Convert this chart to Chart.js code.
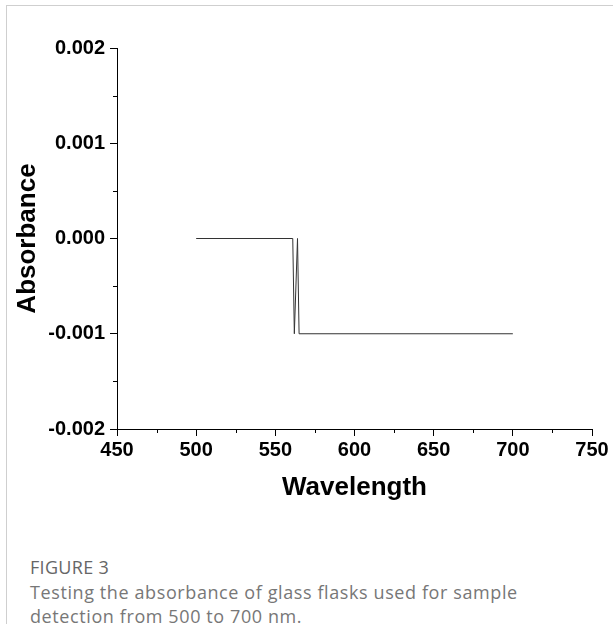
<!DOCTYPE html>
<html>
<head>
<meta charset="utf-8">
<script src="https://cdn.jsdelivr.net/npm/chart.js@4.4.0/dist/chart.umd.min.js"></script>
<style>
  html, body { margin: 0; padding: 0; background: #fff; }
  body { width: 613px; height: 624px; position: relative; overflow: hidden; }
  .card { position: absolute; left: 6px; top: 5px; right: -2px; bottom: -2px;
          border-left: 1px solid #cfcfcf; border-top: 1px solid #cfcfcf; }
  #grafico { position: absolute; left: 0; top: 0; }
  .fig { position: absolute; left: 30px; top: 555px; font-family: "Open Sans", sans-serif;
         font-size: 18px; font-weight: 500; color: #666; letter-spacing: 0.3px; }
  .cap { position: absolute; left: 30px; top: 580px; width: 520px; font-family: "Open Sans", sans-serif;
         font-size: 18px; line-height: 24px; color: #777; letter-spacing: 0.6px; }
</style>
</head>
<body>
<div class="card"></div>
<canvas id="grafico" width="613" height="520"></canvas>
<div class="fig">FIGURE 3</div>
<div class="cap">Testing the absorbance of glass flasks used for sample detection from 500 to 700 nm.</div>

<script>
// datos
const longitudes = [500, 561, 562, 564, 565, 700];
const absorbancia = [0, 0, -0.001, 0, -0.001, -0.001];

const ticksX = [450, 500, 550, 600, 650, 700, 750];
const ticksY = [-0.002, -0.001, 0, 0.001, 0.002];
const menoresX = [475, 525, 575, 625, 675, 725];
const menoresY = [-0.0015, -0.0005, 0.0005, 0.0015];

const fuenteEje = { family: '"Liberation Sans", Arial, sans-serif', size: 20, weight: 'bold' };
const fuenteTitulo = { family: '"Liberation Sans", Arial, sans-serif', size: 26, weight: 'bold' };

// ticks menores (Chart.js no los tiene)
const ticksMenores = {
  id: 'ticksMenores',
  afterDraw(chart) {
    const ctx = chart.ctx;
    const x = chart.scales.x, y = chart.scales.y;
    ctx.save();
    ctx.strokeStyle = '#000';
    ctx.lineWidth = 1;
    ctx.beginPath();
    menoresX.forEach(v => {
      const px = Math.round(x.getPixelForValue(v)) + 0.5;
      ctx.moveTo(px, y.bottom);
      ctx.lineTo(px, y.bottom + 4);
    });
    menoresY.forEach(v => {
      const py = Math.round(y.getPixelForValue(v)) + 0.5;
      ctx.moveTo(x.left, py);
      ctx.lineTo(x.left - 4, py);
    });
    ctx.stroke();
    ctx.restore();
  }
};

new Chart(document.getElementById('grafico'), {
  type: 'line',
  data: {
    datasets: [{
      data: longitudes.map((l, i) => ({ x: l, y: absorbancia[i] })),
      borderColor: '#333',
      borderWidth: 1,
      pointRadius: 0,
      tension: 0,
      fill: false
    }]
  },
  options: {
    responsive: false,
    animation: false,
    layout: { padding: { top: 48, right: 21, left: 12, bottom: 17 } },
    plugins: { legend: { display: false }, tooltip: { enabled: false } },
    scales: {
      x: {
        type: 'linear',
        min: 450,
        max: 750,
        afterBuildTicks: s => { s.ticks = ticksX.map(v => ({ value: v })); },
        afterFit: s => { s.height = 74; },
        grid: { display: true, drawOnChartArea: false, tickLength: 7, tickColor: '#000', tickWidth: 1 },
        border: { display: true, color: '#000', width: 1 },
        ticks: { color: '#000', font: fuenteEje, padding: 2, maxRotation: 0 },
        title: { display: true, text: 'Wavelength', color: '#000', font: fuenteTitulo, padding: 0 }
      },
      y: {
        min: -0.002,
        max: 0.002,
        afterBuildTicks: s => { s.ticks = ticksY.map(v => ({ value: v })); },
        afterFit: s => { s.width = 105; },
        grid: { display: true, drawOnChartArea: false, tickLength: 7, tickColor: '#000', tickWidth: 1 },
        border: { display: true, color: '#000', width: 1 },
        ticks: { color: '#000', font: fuenteEje, padding: 5, callback: v => v.toFixed(3) },
        title: { display: true, text: 'Absorbance', color: '#000', font: fuenteTitulo, padding: 0 }
      }
    }
  },
  plugins: [ticksMenores]
});
</script>
</body>
</html>
